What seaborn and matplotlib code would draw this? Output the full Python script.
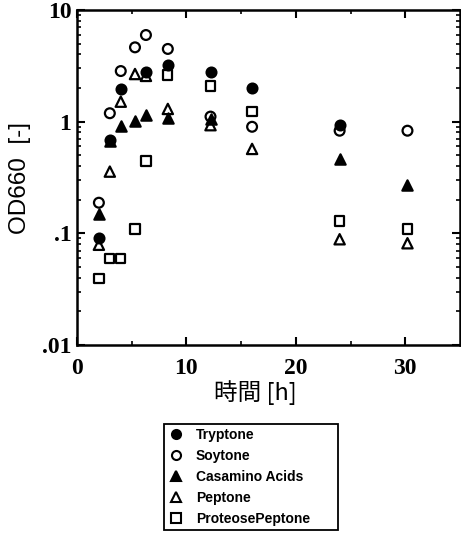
import numpy as np
import pandas as pd
import matplotlib
matplotlib.use("Agg")
import matplotlib.pyplot as plt
import seaborn as sns
from matplotlib.ticker import FixedLocator, FixedFormatter, LogLocator, NullFormatter
from matplotlib.lines import Line2D

sns.set_theme(style="ticks")
plt.rcParams['font.family'] = ['Liberation Sans', 'DejaVu Sans']
plt.rcParams['text.color'] = 'black'

series_names = ["Tryptone", "Soytone", "Casamino Acids", "Peptone", "ProteosePeptone"]

tryptone_t = [2, 3, 4, 6.3, 8.3, 12.2, 16, 24]
tryptone_v = [0.090, 0.685, 1.95, 2.81, 3.22, 2.81, 1.99, 0.93]

soytone_t = [2, 3, 4, 5.3, 6.3, 8.3, 12.2, 16, 24, 30.2]
soytone_v = [0.188, 1.19, 2.84, 4.63, 5.97, 4.48, 1.11, 0.90, 0.83, 0.83]

casamino_t = [2, 3, 4, 5.3, 6.3, 8.3, 12.2, 24, 30.2]
casamino_v = [0.149, 0.67, 0.92, 1.01, 1.15, 1.08, 1.05, 0.464, 0.271]

peptone_t = [2, 3, 4, 5.3, 6.3, 8.3, 12.2, 16, 24, 30.2]
peptone_v = [0.079, 0.357, 1.51, 2.67, 2.57, 1.30, 0.93, 0.57, 0.0885, 0.0815]

proteose_t = [2, 3, 4, 5.3, 6.3, 8.3, 12.2, 16, 24, 30.2]
proteose_v = [0.0396, 0.0598, 0.0598, 0.109, 0.445, 2.62, 2.09, 1.23, 0.129, 0.109]

x_ticks = [0, 10, 20, 30]
y_ticks = [0.01, 0.1, 1, 10]
y_tick_labels = [".01", ".1", "1", "10"]

frames = []
for name, t, v in zip(series_names,
                      [tryptone_t, soytone_t, casamino_t, peptone_t, proteose_t],
                      [tryptone_v, soytone_v, casamino_v, peptone_v, proteose_v]):
    frames.append(pd.DataFrame({"time": t, "od": v, "medium": name}))
df = pd.concat(frames, ignore_index=True)

styles = {
    "Tryptone": dict(marker="o", fc="black", s=50),
    "Soytone": dict(marker="o", fc="none", s=50),
    "Casamino Acids": dict(marker="^", fc="black", s=55),
    "Peptone": dict(marker="^", fc="none", s=55),
    "ProteosePeptone": dict(marker="s", fc="none", s=45),
}

fig = plt.figure(figsize=(4.61, 5.36), dpi=100)
ax = fig.add_axes([77/461, 1-345/536, (460-77)/461, (345-10)/536])

for name in series_names:
    st = styles[name]
    sub = df[df["medium"] == name]
    sns.scatterplot(data=sub, x="time", y="od", ax=ax, marker=st["marker"],
                    s=st["s"], facecolor=st["fc"], edgecolor="black",
                    linewidth=1.6, label=name, legend=False, zorder=3)

ax.set_yscale("log")
ax.set_xlim(0, 35)
ax.set_ylim(0.01, 10)

ax.xaxis.set_major_locator(FixedLocator(x_ticks))
ax.xaxis.set_minor_locator(FixedLocator([5, 15, 25]))
ax.yaxis.set_major_locator(FixedLocator(y_ticks))
ax.yaxis.set_major_formatter(FixedFormatter(y_tick_labels))
ax.yaxis.set_minor_locator(LogLocator(base=10, subs=np.arange(2, 10)))
ax.yaxis.set_minor_formatter(NullFormatter())

ax.tick_params(which="both", direction="in", top=True, right=True, color="black")
ax.tick_params(which="major", length=6, width=1.5)
ax.tick_params(which="minor", length=3, width=1.2)
ax.tick_params(axis="x", which="major", pad=9)
ax.tick_params(axis="y", which="major", pad=4)
for lab in ax.get_xticklabels() + ax.get_yticklabels():
    lab.set_family("Liberation Serif")
    lab.set_fontweight("bold")
    lab.set_fontsize(17)
    lab.set_color("black")

for sp in ax.spines.values():
    sp.set_linewidth(1.8)
    sp.set_color("black")

ax.set_xlabel("時間 [h]", fontsize=17, family=["Noto Sans CJK JP", "DejaVu Sans"], color="black")
ax.xaxis.set_label_coords(0.465, -0.105)
ax.set_ylabel("OD660  [-]", fontsize=17.5, color="black", labelpad=8)

handles = []
for name in series_names:
    st = styles[name]
    handles.append(Line2D([], [], linestyle="none", marker=st["marker"],
                          markerfacecolor=st["fc"], markeredgecolor="black",
                          markeredgewidth=1.5, markersize=6.5))
leg = fig.legend(handles, series_names, loc="upper left",
                 bbox_to_anchor=(157/461, 1-533/536, 188/461, 116/536),
                 mode="expand", frameon=True, fancybox=False, edgecolor="black",
                 framealpha=1, labelcolor="black",
                 prop={"family": "Liberation Sans", "weight": "bold", "size": 10},
                 labelspacing=0.5, handletextpad=0.8, borderpad=0.3, handlelength=1.2)
leg.get_frame().set_linewidth(1.3)

fig.savefig("out.png", dpi=100, facecolor="white")
